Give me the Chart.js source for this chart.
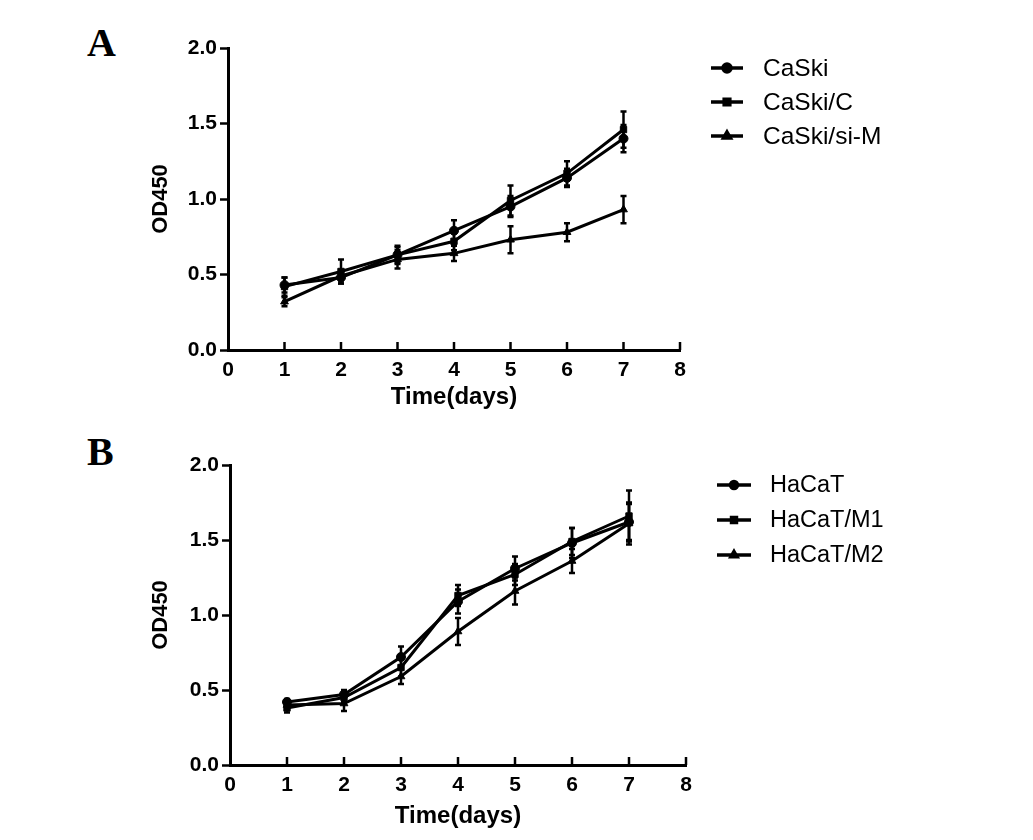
<!DOCTYPE html>
<html>
<head>
<meta charset="utf-8">
<script src="https://cdn.jsdelivr.net/npm/chart.js@4.4.1/dist/chart.umd.min.js"></script>
<style>
  body { margin: 0; background: #fff; width: 1033px; height: 840px; position: relative; overflow: hidden; }
  canvas { position: absolute; left: 0; }
  .panel { position: absolute; font-family: "Liberation Serif", "Times New Roman", serif; font-weight: bold; font-size: 40px; color: #000; }
</style>
</head>
<body>
<div class="panel" style="left:87px; top:19px;">A</div>
<div class="panel" style="left:87px; top:428px;">B</div>
<canvas id="chartA" width="1033" height="420" style="top:0;"></canvas>
<canvas id="chartB" width="1033" height="420" style="top:420px;"></canvas>
<script>
// días del ensayo
var days = [1, 2, 3, 4, 5, 6, 7];

// Panel A
var caski = [0.43, 0.48, 0.63, 0.79, 0.95, 1.14, 1.40];
var caskiErr = [0.05, 0.04, 0.05, 0.07, 0.07, 0.06, 0.09];
var caskiC = [0.42, 0.52, 0.63, 0.72, 0.99, 1.17, 1.46];
var caskiCErr = [0.06, 0.08, 0.06, 0.06, 0.10, 0.08, 0.12];
var caskiSiM = [0.32, 0.49, 0.60, 0.64, 0.73, 0.78, 0.93];
var caskiSiMErr = [0.03, 0.03, 0.06, 0.05, 0.09, 0.06, 0.09];

// Panel B
var hacat = [0.42, 0.47, 0.72, 1.09, 1.31, 1.48, 1.62];
var hacatErr = [0.02, 0.03, 0.07, 0.08, 0.08, 0.10, 0.12];
var hacatM1 = [0.38, 0.45, 0.65, 1.13, 1.27, 1.49, 1.66];
var hacatM1Err = [0.03, 0.03, 0.06, 0.07, 0.07, 0.09, 0.17];
var hacatM2 = [0.40, 0.41, 0.59, 0.89, 1.16, 1.36, 1.61];
var hacatM2Err = [0.03, 0.05, 0.05, 0.09, 0.09, 0.08, 0.14];

var xMin = 0, xMax = 8, xStep = 1;
var yMin = 0, yMax = 2, yStep = 0.5;

function puntos(valores) {
    return valores.map(function (v, i) { return { x: days[i], y: v }; });
}

function serie(label, valores, errores, estilo) {
    return {
        label: label,
        data: puntos(valores),
        errores: errores,
        borderColor: '#000',
        backgroundColor: '#000',
        borderWidth: 3,
        pointStyle: estilo,
        pointRadius: 4.5,
        pointBackgroundColor: '#000',
        pointBorderColor: '#000',
        pointBorderWidth: 1,
        tension: 0
    };
}

// barras de error
var errorBars = {
    id: 'errorBars',
    afterDatasetsDraw: function (chart) {
        var ctx = chart.ctx;
        var ys = chart.scales.y, xs = chart.scales.x;
        ctx.save();
        ctx.strokeStyle = '#000';
        ctx.lineWidth = 2.5;
        chart.data.datasets.forEach(function (ds) {
            if (!ds.errores) return;
            ds.data.forEach(function (p, i) {
                var e = ds.errores[i];
                var px = xs.getPixelForValue(p.x);
                var top = ys.getPixelForValue(p.y + e);
                var bot = ys.getPixelForValue(p.y - e);
                ctx.beginPath();
                ctx.moveTo(px, top); ctx.lineTo(px, bot);
                ctx.moveTo(px - 3, top); ctx.lineTo(px + 3, top);
                ctx.moveTo(px - 3, bot); ctx.lineTo(px + 3, bot);
                ctx.stroke();
            });
        });
        ctx.restore();
    }
};

// marcas del eje x hacia adentro
var xTicksIn = {
    id: 'xTicksIn',
    afterDraw: function (chart) {
        var ctx = chart.ctx;
        var xs = chart.scales.x;
        var base = chart.chartArea.bottom;
        ctx.save();
        ctx.strokeStyle = '#000';
        ctx.lineWidth = 2.5;
        for (var v = xMin + xStep; v <= xMax; v += xStep) {
            var px = xs.getPixelForValue(v);
            ctx.beginPath();
            ctx.moveTo(px, base);
            ctx.lineTo(px, base - 8);
            ctx.stroke();
        }
        ctx.restore();
    }
};

// leyenda a la derecha
var sideLegend = {
    id: 'sideLegend',
    afterDraw: function (chart) {
        var o = chart.options.plugins.sideLegend;
        var ctx = chart.ctx;
        ctx.save();
        chart.data.datasets.forEach(function (ds, i) {
            var y = o.rows[i];
            ctx.strokeStyle = '#000';
            ctx.fillStyle = '#000';
            ctx.lineWidth = 3.5;
            ctx.beginPath();
            ctx.moveTo(o.x1, y); ctx.lineTo(o.x2, y);
            ctx.stroke();
            Chart.helpers.drawPoint(ctx, { pointStyle: ds.pointStyle, radius: o.radius, rotation: 0, borderWidth: 1 }, (o.x1 + o.x2) / 2, y);
            ctx.font = o.fontSize + 'px "Liberation Sans", Arial, sans-serif';
            ctx.textBaseline = 'middle';
            ctx.textAlign = 'left';
            ctx.fillText(ds.label, o.textX, y + 1);
        });
        ctx.restore();
    }
};

function crearGrafica(id, datasets, cfg) {
    var ctx = document.getElementById(id).getContext('2d');
    return new Chart(ctx, {
        type: 'line',
        data: { datasets: datasets },
        options: {
            responsive: false,
            animation: false,
            devicePixelRatio: 1,
            layout: { padding: { left: 148, right: cfg.right, top: cfg.top, bottom: cfg.bottom } },
            plugins: {
                legend: { display: false },
                tooltip: { enabled: false },
                sideLegend: cfg.legend
            },
            scales: {
                x: {
                    type: 'linear',
                    min: xMin, max: xMax,
                    afterFit: function (s) { s.height = cfg.xHeight; },
                    ticks: { stepSize: xStep, color: '#000', padding: 0, font: { family: '"Liberation Sans", Arial', size: 21, weight: 'bold' } },
                    grid: { display: false },
                    border: { display: true, color: '#000', width: 3 },
                    title: { display: true, text: 'Time(days)', color: '#000', padding: { top: 0, bottom: 2 }, font: { family: '"Liberation Sans", Arial', size: 24, weight: 'bold' } }
                },
                y: {
                    min: yMin, max: yMax,
                    afterFit: function (s) { s.width = cfg.yWidth; },
                    ticks: {
                        stepSize: yStep, color: '#000', padding: 3,
                        font: { family: '"Liberation Sans", Arial', size: 21, weight: 'bold' },
                        callback: function (v) { return v.toFixed(1); }
                    },
                    grid: { drawOnChartArea: false, drawTicks: true, tickLength: 8, tickWidth: 2.5, color: '#000' },
                    border: { display: true, color: '#000', width: 3 },
                    title: { display: true, text: 'OD450', color: '#000', padding: { top: 0, bottom: 0 }, font: { family: '"Liberation Sans", Arial', size: 22, weight: 'bold' } }
                }
            }
        },
        plugins: [errorBars, xTicksIn, sideLegend]
    });
}

crearGrafica('chartA', [
    serie('CaSki', caski, caskiErr, 'circle'),
    serie('CaSki/C', caskiC, caskiCErr, 'rect'),
    serie('CaSki/si-M', caskiSiM, caskiSiMErr, 'triangle')
], {
    right: 353, top: 48, bottom: 6, xHeight: 64, yWidth: 80,
    legend: { x1: 711, x2: 743, textX: 763, rows: [68, 102, 136], fontSize: 24.5, radius: 4 }
});

crearGrafica('chartB', [
    serie('HaCaT', hacat, hacatErr, 'circle'),
    serie('HaCaT/M1', hacatM1, hacatM1Err, 'rect'),
    serie('HaCaT/M2', hacatM2, hacatM2Err, 'triangle')
], {
    right: 347, top: 45, bottom: 7, xHeight: 68, yWidth: 82,
    legend: { x1: 717, x2: 751, textX: 770, rows: [65, 100, 135], fontSize: 23.5, radius: 3.5 }
});
</script>
</body>
</html>
